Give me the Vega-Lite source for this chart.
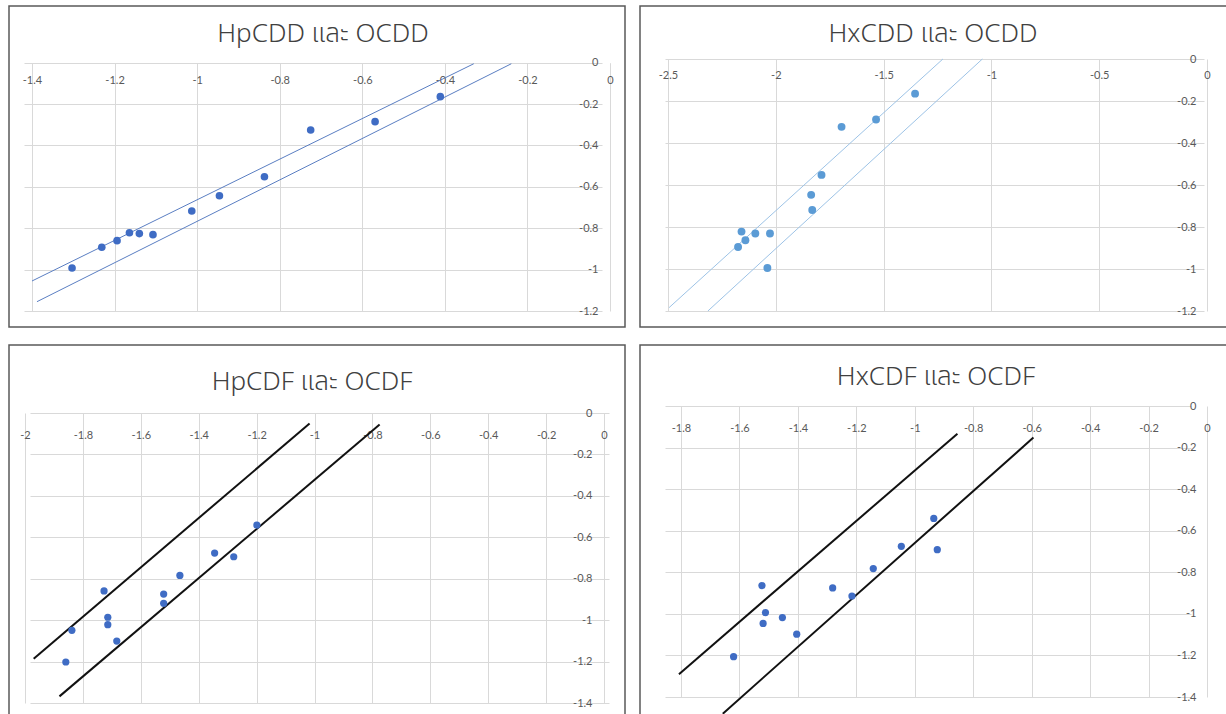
{
  "$schema": "https://vega.github.io/schema/vega-lite/v6.json",
  "background": "white",
  "padding": {"left": 8, "top": 5, "right": 0, "bottom": 0},
  "spacing": {"row": 16, "column": 13},
  "columns": 2,
  "datasets": {
    "p1pts": [
      {"x": -1.303, "y": -0.992}, {"x": -1.231, "y": -0.892}, {"x": -1.194, "y": -0.860},
      {"x": -1.164, "y": -0.822}, {"x": -1.140, "y": -0.826}, {"x": -1.107, "y": -0.831},
      {"x": -1.013, "y": -0.717}, {"x": -0.946, "y": -0.643}, {"x": -0.837, "y": -0.551},
      {"x": -0.725, "y": -0.325}, {"x": -0.569, "y": -0.285}, {"x": -0.411, "y": -0.164}
    ],
    "p1lines": [
      {"line": "upper", "x": -1.4, "y": -1.055}, {"line": "upper", "x": -0.330, "y": -0.005},
      {"line": "lower", "x": -1.388, "y": -1.155}, {"line": "lower", "x": -0.239, "y": -0.005}
    ],
    "p2pts": [
      {"x": -1.354, "y": -0.165}, {"x": -1.535, "y": -0.288}, {"x": -1.695, "y": -0.323},
      {"x": -1.788, "y": -0.552}, {"x": -1.836, "y": -0.647}, {"x": -1.831, "y": -0.719},
      {"x": -2.159, "y": -0.822}, {"x": -2.095, "y": -0.831}, {"x": -2.027, "y": -0.831},
      {"x": -2.141, "y": -0.863}, {"x": -2.175, "y": -0.895}, {"x": -2.039, "y": -0.995}
    ],
    "p2lines": [
      {"line": "upper", "x": -2.495, "y": -1.184}, {"line": "upper", "x": -1.225, "y": 0},
      {"line": "lower", "x": -2.315, "y": -1.2}, {"line": "lower", "x": -1.042, "y": 0}
    ],
    "p3pts": [
      {"x": -1.199, "y": -0.541}, {"x": -1.345, "y": -0.676}, {"x": -1.279, "y": -0.694},
      {"x": -1.465, "y": -0.784}, {"x": -1.521, "y": -0.874}, {"x": -1.521, "y": -0.919},
      {"x": -1.727, "y": -0.859}, {"x": -1.714, "y": -0.986}, {"x": -1.714, "y": -1.022},
      {"x": -1.683, "y": -1.101}, {"x": -1.838, "y": -1.049}, {"x": -1.859, "y": -1.202}
    ],
    "p3lines": [
      {"line": "upper", "x": -1.970, "y": -1.186}, {"line": "upper", "x": -1.017, "y": -0.051},
      {"line": "lower", "x": -1.881, "y": -1.368}, {"line": "lower", "x": -0.775, "y": -0.056}
    ],
    "p4pts": [
      {"x": -0.935, "y": -0.541}, {"x": -0.923, "y": -0.691}, {"x": -1.046, "y": -0.675},
      {"x": -1.142, "y": -0.782}, {"x": -1.281, "y": -0.875}, {"x": -1.215, "y": -0.914},
      {"x": -1.523, "y": -0.864}, {"x": -1.511, "y": -0.994}, {"x": -1.453, "y": -1.018},
      {"x": -1.519, "y": -1.046}, {"x": -1.404, "y": -1.098}, {"x": -1.620, "y": -1.206}
    ],
    "p4lines": [
      {"line": "upper", "x": -1.807, "y": -1.290}, {"line": "upper", "x": -0.854, "y": -0.133},
      {"line": "lower", "x": -1.657, "y": -1.48}, {"line": "lower", "x": -0.594, "y": -0.152}
    ]
  },
  "concat": [
    {
      "width": 616, "height": 321,
      "title": {"text": "HpCDD และ OCDD", "offset": -41, "dx": 6},
      "layer": [
        {
          "data": {"name": "p1lines"},
          "mark": {"type": "line", "color": "#5A7EC2", "strokeWidth": 1},
          "encoding": {
            "x": {"field": "x", "type": "quantitative", "scale": {"domain": [-1.4, 0], "range": [23, 601], "nice": false, "zero": false},
                  "axis": {"orient": "top", "offset": -56.7, "labelPadding": -18, "values": [-1.4, -1.2, -1, -0.8, -0.6, -0.4, -0.2, 0]}},
            "y": {"field": "y", "type": "quantitative", "scale": {"domain": [-1.2, 0], "range": [305, 56.7], "nice": false, "zero": false},
                  "axis": {"orient": "right", "offset": -15, "labelPadding": -12, "values": [-1.2, -1, -0.8, -0.6, -0.4, -0.2, 0]}},
            "detail": {"field": "line"}
          }
        },
        {
          "data": {"name": "p1pts"},
          "mark": {"type": "circle", "color": "#3F6CC4", "opacity": 1, "size": 58},
          "encoding": {
            "x": {"field": "x", "type": "quantitative"},
            "y": {"field": "y", "type": "quantitative"}
          }
        }
      ]
    },
    {
      "width": 592, "height": 321,
      "title": {"text": "HxCDD และ OCDD", "offset": -41, "dx": -3},
      "layer": [
        {
          "data": {"name": "p2lines"},
          "mark": {"type": "line", "color": "#9DC3E6", "strokeWidth": 1},
          "encoding": {
            "x": {"field": "x", "type": "quantitative", "scale": {"domain": [-2.5, 0], "range": [28, 567], "nice": false, "zero": false},
                  "axis": {"orient": "top", "offset": -53, "labelPadding": -16, "values": [-2.5, -2, -1.5, -1, -0.5, 0]}},
            "y": {"field": "y", "type": "quantitative", "scale": {"domain": [-1.2, 0], "range": [305, 53], "nice": false, "zero": false},
                  "axis": {"orient": "right", "offset": -25, "labelPadding": -11, "values": [-1.2, -1, -0.8, -0.6, -0.4, -0.2, 0]}},
            "detail": {"field": "line"}
          }
        },
        {
          "data": {"name": "p2pts"},
          "mark": {"type": "circle", "color": "#5B9BD5", "opacity": 1, "size": 62},
          "encoding": {
            "x": {"field": "x", "type": "quantitative"},
            "y": {"field": "y", "type": "quantitative"}
          }
        }
      ]
    },
    {
      "width": 616, "height": 376,
      "title": {"text": "HpCDF และ OCDF", "offset": -50, "dx": -5},
      "layer": [
        {
          "data": {"name": "p3lines"},
          "mark": {"type": "line", "color": "#111111", "strokeWidth": 2},
          "encoding": {
            "x": {"field": "x", "type": "quantitative", "scale": {"domain": [-2, 0], "range": [16, 595], "nice": false, "zero": false},
                  "axis": {"orient": "top", "offset": -68, "labelPadding": -22, "values": [-2, -1.8, -1.6, -1.4, -1.2, -1, -0.8, -0.6, -0.4, -0.2, 0]}},
            "y": {"field": "y", "type": "quantitative", "scale": {"domain": [-1.4, 0], "range": [358, 68], "nice": false, "zero": false},
                  "axis": {"orient": "right", "offset": -21, "labelPadding": -12, "values": [-1.4, -1.2, -1, -0.8, -0.6, -0.4, -0.2, 0]}},
            "detail": {"field": "line"}
          }
        },
        {
          "data": {"name": "p3pts"},
          "mark": {"type": "circle", "color": "#3F6CC4", "opacity": 1, "size": 52},
          "encoding": {
            "x": {"field": "x", "type": "quantitative"},
            "y": {"field": "y", "type": "quantitative"}
          }
        }
      ]
    },
    {
      "width": 592, "height": 376,
      "title": {"text": "HxCDF และ OCDF", "offset": -45, "dx": 0},
      "layer": [
        {
          "data": {"name": "p4lines"},
          "mark": {"type": "line", "color": "#111111", "strokeWidth": 2},
          "encoding": {
            "x": {"field": "x", "type": "quantitative", "scale": {"domain": [-1.8, 0], "range": [41, 567], "nice": false, "zero": false},
                  "axis": {"orient": "top", "offset": -61, "labelPadding": -22, "values": [-1.8, -1.6, -1.4, -1.2, -1, -0.8, -0.6, -0.4, -0.2, 0]}},
            "y": {"field": "y", "type": "quantitative", "scale": {"domain": [-1.4, 0], "range": [352, 61], "nice": false, "zero": false},
                  "axis": {"orient": "right", "offset": -25, "labelPadding": -11, "values": [-1.4, -1.2, -1, -0.8, -0.6, -0.4, -0.2, 0]}},
            "detail": {"field": "line"}
          }
        },
        {
          "data": {"name": "p4pts"},
          "mark": {"type": "circle", "color": "#3F6CC4", "opacity": 1, "size": 52},
          "encoding": {
            "x": {"field": "x", "type": "quantitative"},
            "y": {"field": "y", "type": "quantitative"}
          }
        }
      ]
    }
  ],
  "config": {
    "view": {"stroke": "#595959", "strokeWidth": 1.5},
    "title": {"font": "'Noto Sans', 'Noto Sans Thai', 'Noto Sans Thai UI', sans-serif", "fontSize": 26, "fontWeight": 300, "color": "#404040", "anchor": "middle", "frame": "group", "baseline": "alphabetic"},
    "axis": {
      "title": null,
      "domain": false,
      "ticks": false,
      "tickSize": 0,
      "grid": true,
      "gridColor": "#d9d9d9",
      "gridWidth": 1,
      "labelFont": "Lato",
      "labelFontSize": 11,
      "labelColor": "#595959",
      "labelExpr": "'' + datum.value"
    },
    "axisX": {"labelBaseline": "middle", "labelAlign": "center"},
    "axisY": {"labelBaseline": "middle", "labelAlign": "right"}
  }
}
